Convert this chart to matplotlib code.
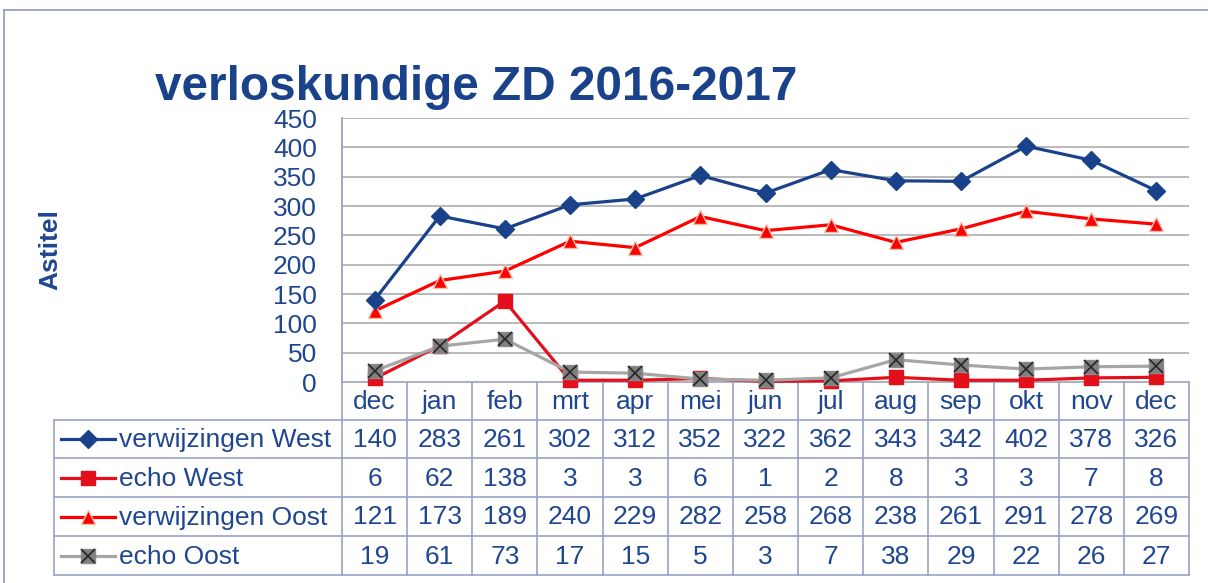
import matplotlib
matplotlib.use("Agg")
import matplotlib.pyplot as plt
from matplotlib.lines import Line2D

plt.rcParams['font.family'] = ['Liberation Sans', 'DejaVu Sans']

months = ["dec", "jan", "feb", "mrt", "apr", "mei", "jun", "jul", "aug", "sep", "okt", "nov", "dec"]
verwijzingen_west = [140, 283, 261, 302, 312, 352, 322, 362, 343, 342, 402, 378, 326]
echo_west = [6, 62, 138, 3, 3, 6, 1, 2, 8, 3, 3, 7, 8]
verwijzingen_oost = [121, 173, 189, 240, 229, 282, 258, 268, 238, 261, 291, 278, 269]
echo_oost = [19, 61, 73, 17, 15, 5, 3, 7, 38, 29, 22, 26, 27]
series_names = ["verwijzingen West", "echo West", "verwijzingen Oost", "echo Oost"]
yticks = [0, 50, 100, 150, 200, 250, 300, 350, 400, 450]

TXT = '#1f4690'
TBL = '#9aa2c6'
FS = 19
W, H = 1208, 583
fig = plt.figure(figsize=(W / 100, H / 100), dpi=100)

# background overlay axes in pixel coords
bg = fig.add_axes([0, 0, 1, 1])
bg.set_xlim(0, W)
bg.set_ylim(H, 0)
bg.axis('off')

# outer frame
bg.plot([4, W], [10, 10], color='#8f98c2', lw=1.2)
bg.plot([4, 4], [10, H], color='#8f98c2', lw=1.2)

# plot area
x0, x1, ytop, ybot = 342, 1189, 118, 382
ax = fig.add_axes([x0 / W, 1 - ybot / H, (x1 - x0) / W, (ybot - ytop) / H])
n = len(months)
xs = list(range(n))
ax.set_xlim(-0.5, n - 0.5)
ax.set_ylim(0, 450)
ax.set_yticks(yticks)
ax.set_yticklabels([str(t) for t in yticks], color=TXT, fontsize=FS)
ax.tick_params(axis='y', length=0, pad=18)
ax.set_xticks([])
ax.grid(axis='y', color='#b3b3b3', lw=1.3)
ax.set_axisbelow(True)
for s in ['top', 'right', 'bottom']:
    ax.spines[s].set_visible(False)
ax.spines['left'].set_color(TBL)
ax.spines['left'].set_linewidth(1.3)
ax.patch.set_alpha(0)

styles = [
    dict(color='#1a428a', marker='D', ms=9.5, mfc='#1a428a', mec='#1a428a'),
    dict(color='#e3101c', marker='s', ms=10, mfc='#e3101c', mec='#e3101c'),
    dict(color='#ff0000', marker='^', ms=10.5, mfc='#ff0000', mec='#f0c0a8'),
    dict(color='#a6a6a6', marker='s', ms=10, mfc='#7f7f7f', mec='#8a8a8a'),
]
data = [verwijzingen_west, echo_west, verwijzingen_oost, echo_oost]
zord = {1: 3, 3: 4, 2: 6, 0: 7}
for i in range(4):
    ax.plot(xs, data[i], lw=2.3, clip_on=False, zorder=zord[i], **styles[i])
ax.plot(xs, echo_oost, ls='none', marker='x', ms=9.5, mew=1.2, color='#262626',
        clip_on=False, zorder=5)

ax.set_ylabel("Astitel", color=TXT, fontsize=FS, fontweight='bold', labelpad=0)
ax.yaxis.set_label_coords((62 - x0) / (x1 - x0), 0.5)

# title
fig.text(155 / W, 1 - 88 / H, "verloskundige ZD 2016-2017", fontsize=34.4, fontweight='bold',
         color='#1a428a', ha='left', va='center')

# table
colw = (x1 - x0) / n
rows_y = [420, 458, 497, 536, 575]
lw_t = 1.2
bg.plot([x0, x1], [ybot, ybot], color=TBL, lw=lw_t)
for y in rows_y:
    bg.plot([54, x1], [y, y], color=TBL, lw=lw_t)
bg.plot([54, 54], [rows_y[0], rows_y[-1]], color=TBL, lw=lw_t)
for i in range(n + 1):
    bg.plot([x0 + i * colw] * 2, [ybot, rows_y[-1]], color=TBL, lw=lw_t)
for j, m in enumerate(months):
    bg.text(x0 + (j + 0.5) * colw, (ybot + rows_y[0]) / 2 + 1, m, color=TXT, fontsize=FS,
            ha='center', va='center')
for r in range(4):
    yc = (rows_y[r] + rows_y[r + 1]) / 2
    for j, v in enumerate(data[r]):
        bg.text(x0 + (j + 0.5) * colw, yc + 1, str(v), color=TXT, fontsize=FS,
                ha='center', va='center')
    st = dict(styles[r])
    bg.add_line(Line2D([61, 115], [yc, yc], lw=2.3, color=st['color']))
    bg.plot([88], [yc], ls='none', marker=st['marker'], ms=st['ms'],
            mfc=st['mfc'], mec=st['mec'])
    if r == 3:
        bg.plot([88], [yc], ls='none', marker='x', ms=9.5, mew=1.2, color='#262626')
    bg.text(119, yc + 1, series_names[r], color=TXT, fontsize=FS, ha='left', va='center')

fig.savefig("out.png", dpi=100)
